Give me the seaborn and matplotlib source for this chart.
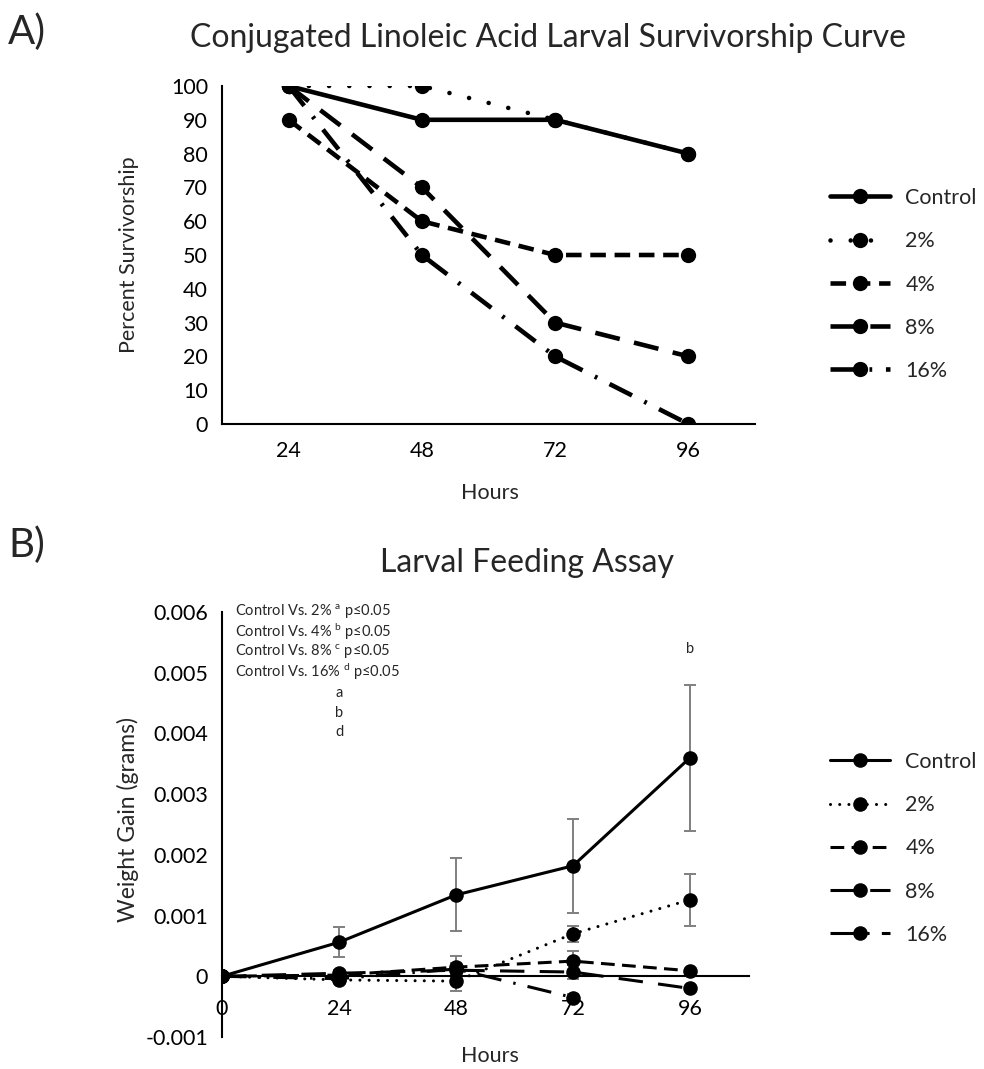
import numpy as np
import pandas as pd
import matplotlib
matplotlib.use("Agg")
import matplotlib.pyplot as plt
import seaborn as sns

# ---------------- data ----------------
series_names = ["Control", "2%", "4%", "8%", "16%"]

# Panel A: survivorship (%)
hours_A = [24, 48, 72, 96]
surv_control = [100, 90, 90, 80]
surv_2 = [100, 100, 90, 80]
surv_4 = [90, 60, 50, 50]
surv_8 = [100, 70, 30, 20]
surv_16 = [100, 50, 20, 0]

# Panel B: weight gain (grams) with error
hours_B = [0, 24, 48, 72, 96]
wg_control = [0, 0.00056, 0.00134, 0.00182, 0.0036]
wg_2 = [0, -0.00006, -0.00008, 0.0007, 0.00126]
wg_4 = [0, 0.00002, 0.00015, 0.00025, 0.00009]
wg_8 = [0, 0.00005, 0.0001, 0.00007, -0.0002]
wg_16 = [0, -0.00004, 0.00012, -0.00035, np.nan]

err_control = [0, 0.00025, 0.0006, 0.00077, 0.0012]
err_2 = [0, 0.00003, 0.00017, 0.00013, 0.00043]
err_4 = [0, 0.00003, 0.00018, 0.00016, 0.00003]
err_8 = [0, 0.00006, 0.00005, 0.00012, 0.00003]
err_16 = [0, 0.00004, 0.0001, 0.00005, np.nan]

x_ticks_A = ["24", "48", "72", "96"]
stat_lines = [("2%", "a"), ("4%", "b"), ("8%", "c"), ("16%", "d")]

# ---------------- style ----------------
sns.set_style("white")
plt.rcParams["font.family"] = ["Lato", "DejaVu Sans"]
plt.rcParams["mathtext.fontset"] = "custom"
plt.rcParams["mathtext.rm"] = "Lato"
plt.rcParams["mathtext.it"] = "Lato:italic"

fig = plt.figure(figsize=(9.84, 10.69), dpi=100)
W, H = 984, 1069

axA = fig.add_axes([222 / W, 1 - 424 / H, 533 / W, 338 / H])
axB = fig.add_axes([222 / W, 1 - 1037 / H, 526.5 / W, 425 / H])

styles_A = {
    "Control": dict(linestyle="-"),
    "2%": dict(linestyle=(0, (0.01, 4.4)), dash_capstyle="round"),
    "4%": dict(linestyle=(0, (3.4, 1.9))),
    "8%": dict(linestyle=(0, (5.5, 3.2))),
    "16%": dict(linestyle=(0, (5.5, 3.0, 0.6, 3.0))),
}
styles_B = {
    "Control": dict(linestyle="-"),
    "2%": dict(linestyle=(0, (0.01, 3.0)), dash_capstyle="round"),
    "4%": dict(linestyle=(0, (4.5, 2.4))),
    "8%": dict(linestyle=(0, (8.0, 5.0))),
    "16%": dict(linestyle=(0, (8.0, 4.0, 0.8, 4.0))),
}

# ---------------- panel A ----------------
survA = [surv_control, surv_2, surv_4, surv_8, surv_16]
for name, vals in zip(series_names, survA):
    df = pd.DataFrame({"Hours": hours_A, "v": vals})
    sns.lineplot(data=df, x="Hours", y="v", ax=axA, color="black", lw=3.3,
                 marker="o", markersize=11, markeredgewidth=0,
                 label=name, **styles_A[name])

axA.set_xlim(12, 108)
axA.set_ylim(0, 100)
axA.set_yticks(range(0, 101, 10))
axA.set_xticks(hours_A)
axA.set_xticklabels(x_ticks_A)
for s in ["top", "right"]:
    axA.spines[s].set_visible(False)
for s in ["left", "bottom"]:
    axA.spines[s].set_color("black")
    axA.spines[s].set_linewidth(1.5)
axA.tick_params(axis="both", length=0, labelsize=15.5, colors="black")
axA.tick_params(axis="y", pad=10)
axA.tick_params(axis="x", pad=12)
axA.set_xlabel("Hours", fontsize=15.5)
axA.set_ylabel("Percent Survivorship", fontsize=15.5)
axA.xaxis.set_label_coords((490 - 222) / 533, (424 - 483) / 338)
axA.yaxis.set_label_coords((139 - 222) / 533, 0.5)
axA.legend(loc="upper left", bbox_to_anchor=(830 / W, 1 - 188 / H),
           bbox_transform=fig.transFigure, frameon=False, fontsize=15.5,
           handlelength=2.8, handletextpad=0.7, labelspacing=1.08,
           borderpad=0, borderaxespad=0, numpoints=1)

# ---------------- panel B ----------------
wgB = [wg_control, wg_2, wg_4, wg_8, wg_16]
errB = [err_control, err_2, err_4, err_8, err_16]
for name, vals, errs in zip(series_names, wgB, errB):
    df = pd.DataFrame({"Hours": hours_B, "v": vals, "e": errs}).dropna()
    axB.errorbar(df["Hours"], df["v"], yerr=df["e"], fmt="none",
                 ecolor="#7f7f7f", elinewidth=1.4, capsize=4.5, capthick=1.4,
                 zorder=2)
    sns.lineplot(data=df, x="Hours", y="v", ax=axB, color="black", lw=2.2,
                 marker="o", markersize=10.5, markeredgewidth=0,
                 label=name, zorder=3, **styles_B[name])

axB.set_xlim(0, 108)
axB.set_ylim(-0.001, 0.006)
axB.set_xticks(hours_B)
axB.set_yticks([-0.001, 0, 0.001, 0.002, 0.003, 0.004, 0.005, 0.006])
axB.set_yticklabels(["-0.001", "0", "0.001", "0.002", "0.003", "0.004",
                     "0.005", "0.006"])
for s in ["top", "right"]:
    axB.spines[s].set_visible(False)
axB.spines["bottom"].set_position(("data", 0))
for s in ["left", "bottom"]:
    axB.spines[s].set_color("black")
    axB.spines[s].set_linewidth(1.5)
axB.tick_params(axis="both", length=0, labelsize=15.5, colors="black")
axB.tick_params(axis="y", pad=10)
axB.tick_params(axis="x", pad=16)
axB.set_xlabel("Hours", fontsize=15.5)
axB.set_ylabel("Weight Gain (grams)", fontsize=16.5)
axB.xaxis.set_label_coords((490 - 222) / 526.5, (1037 - 1046) / 425)
axB.yaxis.set_label_coords((139 - 222) / 526.5, (1037 - 820) / 425)
axB.legend(loc="upper left", bbox_to_anchor=(830 / W, 1 - 752 / H),
           bbox_transform=fig.transFigure, frameon=False, fontsize=15.5,
           handlelength=2.8, handletextpad=0.7, labelspacing=1.08,
           borderpad=0, borderaxespad=0, numpoints=1)

# significance annotations
for i, (pct, letter) in enumerate(stat_lines):
    axB.text(235 / W, 1 - (612 + 20 * i) / H,
             f"Control Vs. {pct} $^{{\\mathrm{{{letter}}}}}$ p≤0.05",
             transform=fig.transFigure, fontsize=10.5, va="center", ha="left")
for letter, yv in zip(["a", "b", "d"], [0.00466, 0.00434, 0.00402]):
    axB.text(24, yv, letter, ha="center", va="center", fontsize=10.5)
axB.text(96, 0.00539, "b", ha="center", va="center", fontsize=10.5)

# titles and panel labels
fig.text(548 / W, 1 - 38 / H, "Conjugated Linoleic Acid Larval Survivorship Curve",
         ha="center", va="center", fontsize=23)
fig.text(527 / W, 1 - 563 / H, "Larval Feeding Assay",
         ha="center", va="center", fontsize=23)
fig.text(8 / W, 1 - 32 / H, "A)", ha="left", va="center", fontsize=29)
fig.text(8 / W, 1 - 545 / H, "B)", ha="left", va="center", fontsize=29)

fig.savefig("out.png", dpi=100)
